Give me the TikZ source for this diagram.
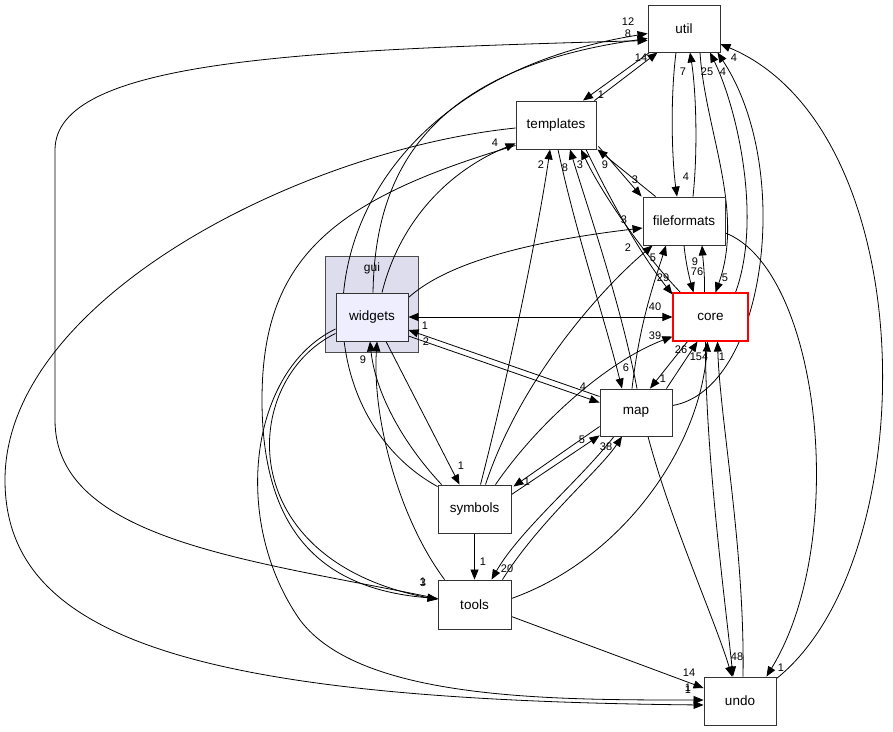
\documentclass[tikz,border=0pt]{standalone}
\usepackage{fontspec}
\setmainfont{Liberation Sans}
\usetikzlibrary{arrows.meta,calc}
\definecolor{guifill}{HTML}{DDDDEE}
\definecolor{wfill}{HTML}{EEEEFF}
\definecolor{corered}{HTML}{FF0000}
\pgfdeclarelayer{bglayer}
\pgfdeclarelayer{edgelayer}
\pgfsetlayers{bglayer,edgelayer,main}
\begin{document}
\begin{tikzpicture}[x=1pt,y=-1pt,
  dnode/.style={draw=black!80,line width=0.9pt,fill=white,inner sep=0pt,font=\fontsize{13.5}{15}\selectfont},
  lbl/.style={inner sep=0pt,font=\fontsize{11}{12}\selectfont},
  arr/.style={line width=0.8pt,-{Triangle[length=10pt,width=8pt]}},
  arrb/.style={line width=0.8pt,{Triangle[length=10pt,width=8pt]}-{Triangle[length=10pt,width=8pt]}},
  ln/.style={line width=0.8pt}]
\useasboundingbox (0,0) rectangle (893,731);
\begin{pgfonlayer}{bglayer}
\fill[white] (0,0) rectangle (893,731);
% cluster
\draw[draw=black!70,line width=0.9pt,fill=guifill] (325,256) rectangle (418,352);
\end{pgfonlayer}
\node[font=\fontsize{12}{14}\selectfont] (guilbl) at (372,268) {gui};
% nodes
\node[dnode,minimum width=72pt,minimum height=47pt] (util) at (684,28.5) {util};
\node[dnode,minimum width=80pt,minimum height=48pt] (templates) at (556,125) {templates};
\node[dnode,minimum width=82pt,minimum height=48pt] (fileformats) at (684,221) {fileformats};
\node[dnode,draw=corered,line width=1.1pt,minimum width=75pt,minimum height=48pt] (core) at (710.5,317) {core};
\node[dnode,fill=wfill,minimum width=72pt,minimum height=48pt] (widgets) at (372,317) {widgets};
\node[dnode,minimum width=72pt,minimum height=47pt] (map) at (636,412.5) {map};
\node[dnode,minimum width=73pt,minimum height=48pt] (symbols) at (474.5,509) {symbols};
\node[dnode,minimum width=73pt,minimum height=49pt] (tools) at (474.5,604.5) {tools};
\node[dnode,minimum width=72pt,minimum height=48pt] (undo) at (740,701) {undo};

\begin{pgfonlayer}{edgelayer}
% util <-> templates
\draw[arr] ($(templates.north east)+(-2,0)$) -- ($(util.south west)+(10,0)$);
\draw[arr] ($(util.south west)+(2,0)$) -- ($(templates.north)+(27,0)$);
% util <-> fileformats
\draw[arr] ($(util.south)+(-8,0)$) .. controls (670,100) and (672,160) .. ($(fileformats.north)+(-7,0)$);
\draw[arr] ($(fileformats.north)+(9,0)$) .. controls (698,150) and (696,90) .. ($(util.south)+(6,0)$);
% util <-> core
\draw[arr] ($(core.north)+(25,0)$) .. controls (762,220) and (738,110) .. ($(util.south)+(26,0)$);
\draw[arr] ($(util.south)+(16,0)$) .. controls (705,130) and (745,210) .. ($(core.north)+(5,0)$);
% map -> util
\draw[arr] ($(map.east)+(0,-7)$) .. controls (765,390) and (795,170) .. ($(util.south east)+(-3,0)$);
% undo -> util
\draw[arr] ($(undo.north east)+(0,2)$) .. controls (925,560) and (925,130) .. ($(util.east)+(0,15.5)$);
% fileformats -> undo
\draw[arr] ($(fileformats.east)+(0,12)$) .. controls (820,270) and (850,540) .. ($(undo.north east)+(-10,0)$);
% core <-> undo
\draw[arr] ($(core.south)+(-5,0)$) .. controls (705,450) and (725,600) .. ($(undo.north)+(-7,0)$);
\draw[arr] ($(undo.north)+(3,0)$) .. controls (745,550) and (720,420) .. ($(core.south)+(7,0)$);
% map -> undo
\draw[arr] ($(map.south)+(12,0)$) .. controls (670,520) and (715,620) .. ($(undo.north)+(-8,0)$);
% core <-> map
\draw[arr] ($(core.south west)+(15,0)$) -- ($(map.north)+(14,0)$);
\draw[arr] ($(map.north east)+(-6,0)$) -- ($(core.south)+(-13,0)$);
% tools -> core
\draw[arr] ($(tools.east)+(0,-6)$) .. controls (620,560) and (700,450) .. ($(core.south)+(-3,0)$);
% map -> fileformats
\draw[arr] ($(map.north)+(-4,0)$) .. controls (640,320) and (655,280) .. ($(fileformats.south)+(-18,0)$);
% symbols -> fileformats, core, templates
\draw[arr] ($(symbols.north)+(11,0)$) .. controls (520,380) and (600,290) .. ($(fileformats.south west)+(10,0)$);
\draw[arr] ($(symbols.north)+(21,0)$) .. controls (540,420) and (610,360) .. ($(core.south west)+(0,-5)$);
\draw[arr] ($(symbols.north)+(6,0)$) .. controls (510,370) and (540,220) .. ($(templates.south)+(-6,0)$);
% widgets -> fileformats
\draw[arr] ($(widgets.north east)+(0,5)$) .. controls (450,260) and (540,240) .. ($(fileformats.west)+(0,7)$);
% templates <-> fileformats
\draw[arr] ($(templates.south east)+(2,-3)$) -- ($(fileformats.north west)+(-1,0)$);
\draw[arr] ($(fileformats.north west)+(13,0)$) -- ($(templates.south east)+(1,0)$);
% templates <-> core
\draw[arr] ($(templates.south)+(30,0)$) .. controls (615,210) and (645,260) .. ($(core.north west)+(0,2)$);
\draw[arr] ($(core.north west)+(8,0)$) .. controls (640,250) and (600,190) .. ($(templates.south)+(25,0)$);
% templates <-> map
\draw[arr] ($(map.north)+(1,0)$) .. controls (620,300) and (585,200) .. ($(templates.south)+(14,0)$);
\draw[arr] ($(templates.south)+(2,0)$) .. controls (575,230) and (605,320) .. ($(map.north)+(-14,0)$);
% fileformats <-> core
\draw[arr] ($(fileformats.south)+(0,0)$) .. controls (686,265) and (690,280) .. ($(core.north)+(-17,0)$);
\draw[arr] ($(core.north)+(-6,0)$) .. controls (705,275) and (703,260) .. ($(fileformats.south)+(18,0)$);
% widgets <-> core
\draw[arrb] (widgets.east) -- (core.west);
% widgets <-> map
\draw[arr] ($(map.west)+(0,-16)$) -- ($(widgets.east)+(0,13)$);
\draw[arr] ($(widgets.east)+(0,19)$) -- ($(map.west)+(0,-10)$);
% symbols <-> map
\draw[arr] ($(symbols.north east)+(0,10)$) -- ($(map.south west)+(0,-1)$);
\draw[arr] ($(map.west)+(0,14)$) -- ($(symbols.north east)+(2,2)$);
% tools <-> map
\draw[arr] ($(tools.north)+(28,0)$) .. controls (540,520) and (600,470) .. ($(map.south)+(-14,0)$);
\draw[arr] ($(map.south)+(-22,0)$) .. controls (580,480) and (520,530) .. ($(tools.north)+(17,0)$);
% symbols -> tools
\draw[arr] (symbols.south) -- (tools.north);
% widgets <-> symbols, tools -> widgets
\draw[arr] ($(widgets.south)+(14,0)$) -- ($(symbols.north)+(-15,0)$);
\draw[arr] ($(symbols.north west)+(4,0)$) .. controls (400,440) and (375,390) .. ($(widgets.south)+(-2,0)$);
\draw[arr] ($(tools.north west)+(7,0)$) .. controls (400,520) and (372,420) .. ($(widgets.south)+(5,0)$);
% -> util from the left
\draw[arr] ($(symbols.north west)+(0,2)$) .. controls (280,400) and (300,90) .. ($(util.west)+(0,5)$);
\draw[arr] ($(widgets.north)+(1,0)$) .. controls (375,180) and (420,70) .. ($(util.west)+(0,10)$);
\draw[arr] ($(tools.west)+(0,-6)$) .. controls (250,560) and (55,540) .. (55,420) -- (55,150) .. controls (55,60) and (300,50) .. ($(util.west)+(0,12)$);
% widgets -> templates
\draw[arr] ($(widgets.north)+(10,0)$) .. controls (400,220) and (450,170) .. ($(templates.south west)+(0,-6)$);
% templates -> tools
\draw[arr] ($(templates.south west)+(0,-4)$) .. controls (330,200) and (262,260) .. (262,400) .. controls (262,540) and (330,590) .. ($(tools.west)+(0,-6)$);
% widgets -> tools
\draw[arr] ($(widgets.south west)+(0,-8)$) .. controls (240,380) and (230,560) .. ($(tools.west)+(0,-5)$);
% widgets -> undo
\draw[arr] ($(widgets.west)+(0,12)$) .. controls (250,370) and (230,520) .. (300,620) .. controls (360,700) and (550,700) .. ($(undo.west)+(0,-1)$);
% templates -> undo
\draw[arr] ($(templates.west)+(0,3)$) .. controls (300,150) and (5,300) .. (5,480) .. controls (5,640) and (200,700) .. ($(undo.west)+(0,4)$);
% tools -> undo
\draw[arr] ($(tools.east)+(0,12)$) -- ($(undo.west)+(0,-13)$);
\end{pgfonlayer}

% labels
\node[lbl] (a1) at (641,58) {14};
\node[lbl] (a2) at (601,95) {1};
\node[lbl] (a3) at (686,177) {4};
\node[lbl] (a4) at (683,72) {7};
\node[lbl] (a5) at (707,72) {25};
\node[lbl] (a6) at (725,278) {5};
\node[lbl] (a7) at (723,72) {4};
\node[lbl] (a8) at (734,58) {4};
\node[lbl] (a9) at (781,668) {1};
\node[lbl] (a10) at (737,657) {48};
\node[lbl] (a11) at (722,357) {1};
\node[lbl] (a12) at (663,379) {1};
\node[lbl] (a13) at (681,350) {26};
\node[lbl] (a14) at (699,357) {154};
\node[lbl] (a15) at (653,258) {5};
\node[lbl] (a16) at (628,248) {2};
\node[lbl] (a17) at (655,336) {39};
\node[lbl] (a18) at (541,165) {2};
\node[lbl] (a19) at (624,220) {3};
\node[lbl] (a20) at (635,180) {3};
\node[lbl] (a21) at (605,165) {9};
\node[lbl] (a22) at (663,278) {29};
\node[lbl] (a23) at (580,165) {3};
\node[lbl] (a24) at (565,168) {8};
\node[lbl] (a25) at (626,368) {6};
\node[lbl] (a26) at (697,272) {76};
\node[lbl] (a27) at (695,262) {9};
\node[lbl] (a28) at (655,307) {40};
\node[lbl] (a29) at (425,326) {1};
\node[lbl] (a30) at (426,342) {2};
\node[lbl] (a31) at (583,387) {4};
\node[lbl] (a32) at (582,440) {5};
\node[lbl] (a33) at (527,482) {1};
\node[lbl] (a34) at (606,447) {38};
\node[lbl] (a35) at (507,569) {20};
\node[lbl] (a36) at (483,562) {1};
\node[lbl] (a37) at (461,466) {1};
\node[lbl] (a38) at (363,360) {9};
\node[lbl] (a39) at (628,22) {12};
\node[lbl] (a40) at (628,34) {8};
\node[lbl] (a41) at (495,143) {4};
\node[lbl] (a42) at (423,583) {3};
\node[lbl] (a43) at (423,582) {1};
\node[lbl] (a44) at (689,673) {14};
\node[lbl] (a45) at (688,688) {1};
\node[lbl] (a46) at (688,690) {1};
\end{tikzpicture}
\end{document}
